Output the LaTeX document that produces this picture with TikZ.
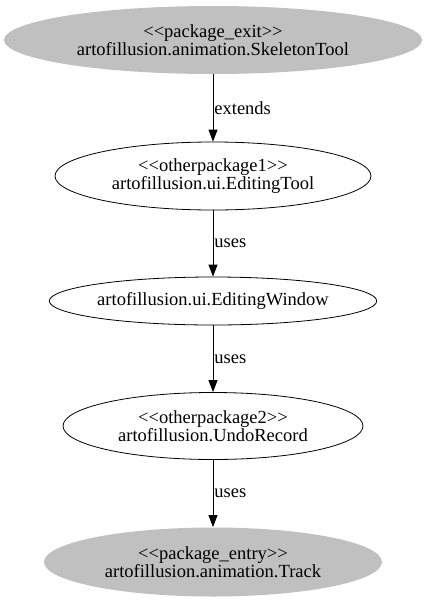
\documentclass[tikz,border=0pt]{standalone}
\usepackage{fontspec}
\setmainfont{Liberation Serif}[Ligatures=TeXOff]
\usepackage{xcolor}
\usetikzlibrary{shapes.geometric, arrows.meta}
\definecolor{pkggray}{RGB}{192,192,192}

\begin{document}
\begin{tikzpicture}[
            x=1pt, y=-1pt,
            cls/.style={ellipse, draw, line width=0.8pt, inner sep=0pt, align=center,
                font=\fontsize{18.5}{17.5}\selectfont},
            pkg/.style={cls, draw=none, fill=pkggray},
            dep/.style={line width=0.8pt, -{Triangle[length=12pt, width=9pt]}},
            lbl/.style={right, inner sep=1pt, font=\fontsize{18.5}{17.5}\selectfont},
        ]
            \useasboundingbox (0,0) rectangle (427,603);
            \node[pkg, minimum width=418pt, minimum height=68pt] (skeleton) at (213,40)
                {<<package\_exit>>\\artofillusion.animation.SkeletonTool};
            \node[cls, minimum width=316pt, minimum height=68pt] (editingtool) at (213,176)
                {<<otherpackage1>>\\artofillusion.ui.EditingTool};
            \node[cls, minimum width=320pt, minimum height=48pt] (editingwindow) at (213,301)
                {artofillusion.ui.EditingWindow};
            \node[cls, minimum width=300pt, minimum height=67pt] (undorecord) at (213,426)
                {<<otherpackage2>>\\artofillusion.UndoRecord};
            \node[pkg, minimum width=338pt, minimum height=69pt] (track) at (213,562)
                {<<package\_entry>>\\artofillusion.animation.Track};

            \draw[dep] (skeleton) -- node[lbl] {extends} (editingtool);
            \draw[dep] (editingtool) -- node[lbl] {uses} (editingwindow);
            \draw[dep] (editingwindow) -- node[lbl] {uses} (undorecord);
            \draw[dep] (undorecord) -- node[lbl] {uses} (track);
        \end{tikzpicture}
\end{document}
